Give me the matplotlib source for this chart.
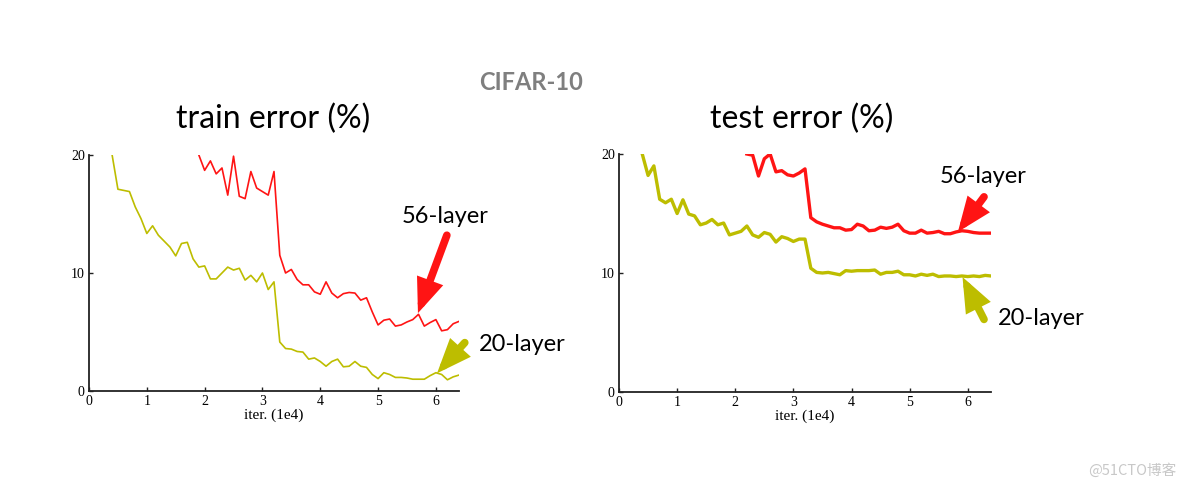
import matplotlib
matplotlib.use("Agg")
import matplotlib.pyplot as plt

# iterations (1e4) sampled every 1000 iters
iters = [0.4, 0.5, 0.6, 0.7, 0.8, 0.9, 1.0, 1.1, 1.2, 1.3, 1.4, 1.5, 1.6, 1.7, 1.8,
         1.9, 2.0, 2.1, 2.2, 2.3, 2.4, 2.5, 2.6, 2.7, 2.8, 2.9, 3.0, 3.1, 3.2, 3.3,
         3.4, 3.5, 3.6, 3.7, 3.8, 3.9, 4.0, 4.1, 4.2, 4.3, 4.4, 4.5, 4.6, 4.7, 4.8,
         4.9, 5.0, 5.1, 5.2, 5.3, 5.4, 5.5, 5.6, 5.7, 5.8, 5.9, 6.0, 6.1, 6.2, 6.3, 6.4]

train_20 = [20.0, 17.1, 17.0, 16.9, 15.6, 14.6, 13.35, 14.0, 13.2, 12.7, 12.2, 11.45,
            12.5, 12.6, 11.2, 10.5, 10.6, 9.5, 9.5, 10.0, 10.5, 10.25, 10.4, 9.4, 9.8,
            9.25, 10.0, 8.6, 9.25, 4.15, 3.6, 3.55, 3.35, 3.3, 2.7, 2.8, 2.5, 2.1, 2.5,
            2.7, 2.05, 2.1, 2.5, 2.1, 2.0, 1.4, 1.05, 1.55, 1.4, 1.15, 1.15, 1.1, 1.0,
            1.0, 1.0, 1.3, 1.55, 1.4, 0.95, 1.2, 1.35]
# 56-layer train curve starts at 1.9e4
train_56 = [20.0, 18.7, 19.5, 18.4, 18.9, 16.6, 19.9, 16.5, 16.3, 18.6, 17.2, 16.9,
            16.6, 18.6, 11.5, 10.0, 10.3, 9.45, 9.0, 9.0, 8.4, 8.2, 9.25, 8.3, 7.9,
            8.25, 8.35, 8.3, 7.7, 7.9, 6.7, 5.6, 6.0, 6.1, 5.5, 5.6, 5.85, 6.05, 6.5,
            5.5, 5.8, 6.05, 5.1, 5.2, 5.7, 5.9]

test_20 = [20.0, 18.2, 19.0, 16.2, 15.9, 16.2, 15.0, 16.15, 14.95, 14.8, 14.05, 14.2,
           14.5, 14.05, 14.2, 13.2, 13.35, 13.5, 13.95, 13.2, 13.0, 13.4, 13.25, 12.6,
           13.05, 12.9, 12.65, 12.85, 12.85, 10.4, 10.05, 10.0, 10.05, 9.95, 9.85, 10.2,
           10.15, 10.2, 10.2, 10.2, 10.25, 9.9, 10.05, 10.05, 10.15, 9.85, 9.85, 9.75,
           9.9, 9.8, 9.9, 9.7, 9.75, 9.75, 9.7, 9.75, 9.7, 9.75, 9.7, 9.8, 9.75]
# 56-layer test curve starts at 2.2e4
test_56 = [20.0, 19.9, 18.15, 19.6, 20.0, 18.5, 18.6, 18.25, 18.15, 18.4, 18.75, 14.65,
           14.3, 14.1, 13.95, 13.8, 13.8, 13.6, 13.65, 14.1, 13.95, 13.55, 13.6, 13.85,
           13.75, 13.85, 14.1, 13.55, 13.35, 13.35, 13.6, 13.35, 13.4, 13.5, 13.3, 13.3,
           13.45, 13.55, 13.5, 13.4, 13.35, 13.35, 13.35]

x_ticks = [0, 1, 2, 3, 4, 5, 6]
y_ticks = [0, 10, 20]

RED = "#ff1414"
OLIVE = "#bdbd00"
SANS = "Lato"
SERIF = "Liberation Serif"

fig = plt.figure(figsize=(11.84, 4.88), dpi=100)
W, H = 1184.0, 488.0


def setup(ax):
    ax.set_xlim(0, 6.4)
    ax.set_ylim(0, 20)
    for s in ["top", "right"]:
        ax.spines[s].set_visible(False)
    for s in ["left", "bottom"]:
        ax.spines[s].set_linewidth(1.3)
        ax.spines[s].set_color("#222222")
    ax.set_xticks(x_ticks)
    ax.set_yticks(y_ticks)
    ax.tick_params(direction="in", length=3, width=1, color="#222222",
                   labelsize=10, pad=3)
    for lab in ax.get_xticklabels() + ax.get_yticklabels():
        lab.set_family(SERIF)
    ax.set_xlabel("iter. (1e4)", family=SERIF, fontsize=11, labelpad=0)


def arrow(ax, tail, tip, color, lw):
    ax.annotate("", xy=tip, xytext=tail, annotation_clip=False,
                arrowprops=dict(arrowstyle="-|>,head_length=1.5,head_width=0.6",
                                lw=lw, color=color, capstyle="round",
                                joinstyle="miter", shrinkA=0, shrinkB=0))


ax1 = fig.add_axes([89 / W, 97 / H, 370 / W, 236 / H])
setup(ax1)
ax1.plot(iters, train_20, color=OLIVE, lw=1.2)
ax1.plot(iters[15:], train_56, color=RED, lw=1.2)
arrow(ax1, (6.19, 13.2), (5.69, 6.6), RED, 5.5)
arrow(ax1, (6.5, 4.1), (6.02, 1.5), OLIVE, 5.5)
ax1.text(6.16, 14.75, "56-layer", family=SANS, fontsize=17, ha="center",
         va="center", clip_on=False)
ax1.text(7.49, 3.9, "20-layer", family=SANS, fontsize=17, ha="center",
         va="center", clip_on=False)

ax2 = fig.add_axes([619 / W, 96 / H, 372 / W, 238 / H])
setup(ax2)
ax2.plot(iters, test_20, color=OLIVE, lw=2.4)
ax2.plot(iters[18:], test_56, color=RED, lw=2.4)
arrow(ax2, (6.28, 16.4), (5.83, 13.45), RED, 5.5)
arrow(ax2, (6.28, 6.1), (5.91, 9.66), OLIVE, 5.5)
ax2.text(6.26, 18.15, "56-layer", family=SANS, fontsize=17, ha="center",
         va="center", clip_on=False)
ax2.text(7.26, 6.2, "20-layer", family=SANS, fontsize=17, ha="center",
         va="center", clip_on=False)

fig.text(531 / W, 1 - 82 / H, "CIFAR-10", family=SANS, fontweight="bold",
         fontsize=17, color="#7f7f7f", ha="center", va="center")
fig.text(273 / W, 1 - 119 / H, "train error (%)", family=SANS, fontsize=23,
         ha="center", va="center")
fig.text(802 / W, 1 - 119 / H, "test error (%)", family=SANS, fontsize=23,
         ha="center", va="center")
fig.text(1132 / W, 1 - 471 / H, "@51CTO博客", family=["Noto Sans CJK SC", "DejaVu Sans"],
         fontsize=10.5, color="#c8c8c8", ha="center", va="center")

fig.savefig("out.png", dpi=100)
